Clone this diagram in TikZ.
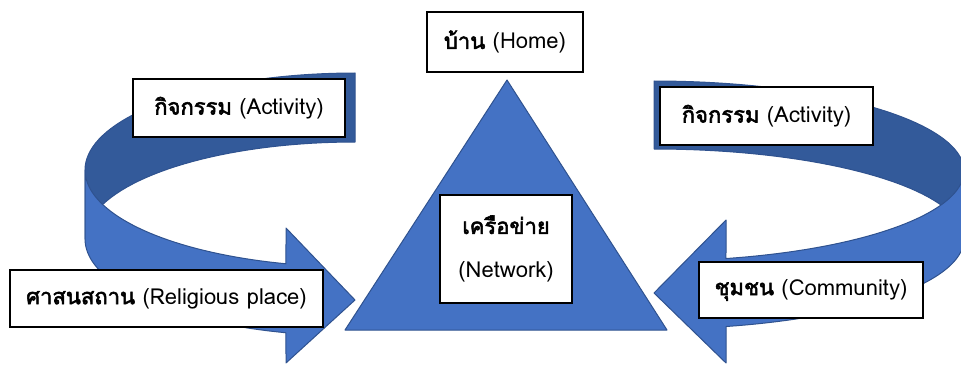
\documentclass[tikz,border=0pt]{standalone}
\usepackage{fontspec}
\setmainfont{Loma}[Script=Thai, AutoFakeBold=2.5]
\definecolor{loopfront}{HTML}{4472C4}
\definecolor{loopback}{HTML}{335A9A}
\definecolor{loopedge}{HTML}{2F528F}

\begin{document}
\begin{tikzpicture}[x=1pt,y=1pt,
    box/.style={draw=black, line width=1.2pt, fill=white, inner sep=0pt, font=\fontsize{22}{26}\selectfont},
    front/.style={fill=loopfront, draw=loopedge, line width=1pt, line join=round},
    back/.style={fill=loopback, draw=loopedge, line width=1pt, line join=round}]
      \useasboundingbox (0,0) rectangle (961,365);
      % left loop
      \draw[back] plot[domain=90:180,samples=40] ({355+270*cos(\x)},{195+97*sin(\x)})
        -- plot[domain=180:90,samples=40] ({355+270*cos(\x)},{126+97*sin(\x)}) -- cycle;
      \draw[front] plot[domain=180:255.19,samples=40] ({355+270*cos(\x)},{195+97*sin(\x)})
        -- (286,137) -- (355,65) -- (286,2)
        -- plot[domain=255.19:180,samples=40] ({355+270*cos(\x)},{126+97*sin(\x)}) -- cycle;
      % right loop
      \draw[back] plot[domain=90:0,samples=40] ({654+310*cos(\x)},{194+90*sin(\x)})
        -- plot[domain=0:90,samples=40] ({654+310*cos(\x)},{126+90*sin(\x)}) -- cycle;
      \draw[front] plot[domain=0:-76.57,samples=40] ({654+310*cos(\x)},{194+90*sin(\x)})
        -- (726,145) -- (654,72) -- (726,2)
        -- plot[domain=-76.57:0,samples=40] ({654+310*cos(\x)},{126+90*sin(\x)}) -- cycle;
      % triangle
      \draw[front] (507,285) -- (667,35) -- (345,35) -- cycle;
      \node[box, minimum width=156pt, minimum height=60pt] (home) at (505,323) {\textbf{บ้าน} (Home)};
      \node[box, minimum width=132pt, minimum height=108pt, align=center] (net) at (506,116) {\textbf{เครือข่าย}\\[18pt](Network)};
      \node[box, minimum width=212pt, minimum height=58pt] (actL) at (239,257) {\textbf{กิจกรรม} (Activity)};
      \node[box, minimum width=213pt, minimum height=58pt] (actR) at (766.5,249) {\textbf{กิจกรรม} (Activity)};
      \node[box, minimum width=313pt, minimum height=57pt] (relig) at (166.5,66.5) {\textbf{ศาสนสถาน} (Religious place)};
      \node[box, minimum width=224pt, minimum height=56pt] (comm) at (811,75) {\textbf{ชุมชน} (Community)};
\end{tikzpicture}
\end{document}
